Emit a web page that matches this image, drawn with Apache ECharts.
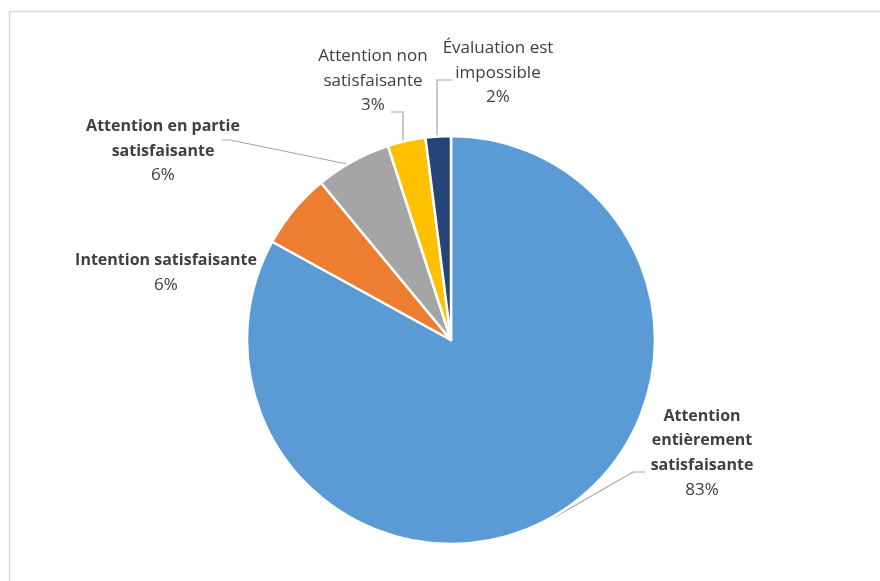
<!DOCTYPE html>
<html>
<head>
<meta charset="utf-8">
<script src="https://cdn.jsdelivr.net/npm/echarts@6/dist/echarts.min.js"></script>
<style>
  html, body { margin: 0; padding: 0; background: #fff; }
  #chart { width: 880px; height: 581px; }
</style>
</head>
<body>
<div id="chart"></div>
<script>
// Répartition des évaluations (en %)
const categories = [
  'Attention entièrement satisfaisante',
  'Intention satisfaisante',
  'Attention en partie satisfaisante',
  'Attention non satisfaisante',
  'Évaluation est impossible'
];
const values = [83, 6, 6, 3, 2];
const labelTexts = [
  'Attention\nentièrement\nsatisfaisante',
  'Intention satisfaisante',
  'Attention en partie\nsatisfaisante',
  'Attention non\nsatisfaisante',
  'Évaluation est\nimpossible'
];
const boldName = [true, true, true, false, false];
const colors = ['#5B9BD5', '#ED7D31', '#A5A5A5', '#FFC000', '#264478'];

// label anchor (centre of each text block) and leader line routes
const labelAnchor = [[702, 453], [166, 273], [163, 151], [373, 81], [498, 73]];
const leaderRoutes = [
  [[555, 517], [633, 472], [645, 472]],
  null,
  [[347, 164], [230, 140], [222, 140]],
  [[403, 142], [403, 112], [391, 112]],
  [[437, 138], [437, 80], [452, 80]]
];

const FONT = '"Open Sans", "Noto Sans", sans-serif';

const chart = echarts.init(document.getElementById('chart'), null, { renderer: 'canvas' });

const pieData = categories.map((name, i) => ({
  name: name,
  value: values[i],
  itemStyle: { color: colors[i] },
  label: {
    formatter: () => {
      const key = boldName[i] ? 'b' : 'n';
      return labelTexts[i].split('\n').map(t => '{' + key + '|' + t + '}').join('\n') +
        '\n{n|' + values[i] + '%}';
    }
  },
  labelLine: { show: !!leaderRoutes[i] }
}));

chart.setOption({
  animation: false,
  backgroundColor: '#ffffff',
  graphic: [{
    type: 'rect',
    shape: { x: 9.5, y: 11.5, width: 900, height: 600 },
    style: { fill: 'none', stroke: '#d9d9d9', lineWidth: 1.5 },
    silent: true
  }],
  series: [{
    type: 'pie',
    center: [451, 340],
    radius: [0, 204],
    startAngle: 90,
    clockwise: true,
    data: pieData,
    itemStyle: { borderColor: '#ffffff', borderWidth: 2.5 },
    label: {
      show: true,
      position: 'outside',
      align: 'center',
      color: '#404040',
      fontFamily: FONT,
      rich: {
        b: { fontFamily: FONT, fontSize: 16, fontWeight: 'bold', color: '#404040', lineHeight: 24.5, align: 'center' },
        n: { fontFamily: FONT, fontSize: 17, fontWeight: 'normal', color: '#404040', lineHeight: 24.5, align: 'center' }
      }
    },
    labelLine: {
      show: true,
      lineStyle: { color: '#a6a6a6', width: 1.2 }
    },
    labelLayout: function (p) {
      const a = labelAnchor[p.dataIndex];
      const out = { x: a[0], y: a[1], align: 'center', verticalAlign: 'middle', hideOverlap: false, moveOverlap: false };
      if (leaderRoutes[p.dataIndex]) out.labelLinePoints = leaderRoutes[p.dataIndex];
      return out;
    }
  }]
});
</script>
</body>
</html>
